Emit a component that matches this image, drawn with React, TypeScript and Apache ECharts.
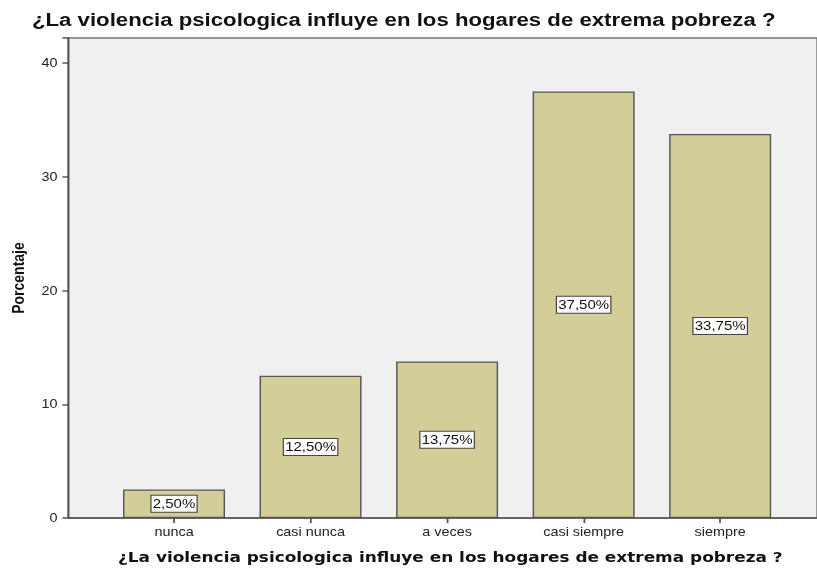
import React, { useEffect, useRef } from "react";
import * as echarts from "echarts";

const categories = ["nunca", "casi nunca", "a veces", "casi siempre", "siempre"];
const percentages = [2.5, 12.5, 13.75, 37.5, 33.75];
const yTicks = [0, 10, 20, 30, 40];
const chartTitle = "¿La violencia psicologica influye en los hogares de extrema pobreza ?";
const xTitle = "¿La violencia psicologica influye en los hogares de extrema pobreza ?";
const yTitle = "Porcentaje";

const Y_MAX = 42.2;
// the reference picture is horizontally stretched; draw narrower and stretch
const SX = 1.2;
const W = 817 / SX;

export default function App() {
  const ref = useRef<HTMLDivElement>(null);
  useEffect(() => {
    if (!ref.current) return;
    const chart = echarts.init(ref.current, null, { renderer: "svg" });
    const fmt = (v: number) => v.toFixed(2).replace(".", ",") + "%";
    chart.setOption({
      animation: false,
      title: [
        {
          text: chartTitle,
          left: 32 / SX,
          top: 10,
          padding: 0,
          textStyle: { fontFamily: "Liberation Sans", fontWeight: "bold", fontSize: 18.5, color: "#111" },
        },
        {
          text: xTitle,
          left: 118 / SX,
          top: 550,
          padding: 0,
          textStyle: { fontFamily: "DejaVu Sans", fontWeight: "bold", fontSize: 14.1, color: "#111" },
        },
      ],
      grid: [
        {
          left: 68 / SX,
          top: 38,
          width: 700,
          bottom: 53,
          show: true,
          backgroundColor: "#f0f0f0",
          borderColor: "#777",
          borderWidth: 1.5,
        },
        { left: 105.75 / SX, right: 28.75 / SX, top: 38, bottom: 53 },
      ],
      xAxis: [
        {
          gridIndex: 0,
          type: "value",
          min: 0,
          max: 1,
          axisLine: { show: true, onZero: false, lineStyle: { color: "#555", width: 1.5 } },
          axisTick: { show: false },
          axisLabel: { show: false },
          splitLine: { show: false },
        },
        {
          gridIndex: 1,
          type: "category",
          data: categories,
          axisLine: { show: false },
          axisTick: { show: true, alignWithLabel: true, length: 5, lineStyle: { color: "#555", width: 1.5 } },
          axisLabel: { fontFamily: "Liberation Sans", fontSize: 12, color: "#222", margin: 8 },
        },
      ],
      yAxis: [
        {
          gridIndex: 0,
          type: "value",
          min: 0,
          max: Y_MAX,
          interval: 10,
          axisLine: { show: true, lineStyle: { color: "#555", width: 1.5 } },
          axisTick: { show: true, length: 5, lineStyle: { color: "#555", width: 1.5 } },
          axisLabel: {
            fontFamily: "Liberation Sans",
            fontSize: 12,
            color: "#222",
            margin: 9,
            formatter: (v: number) => (yTicks.includes(v) ? String(v) : ""),
          },
          splitLine: { show: false },
          name: yTitle,
          nameLocation: "middle",
          nameRotate: 90,
          nameGap: 35,
          nameTextStyle: { fontFamily: "Liberation Sans", fontWeight: "bold", fontSize: 14, color: "#111" },
        },
        { gridIndex: 1, type: "value", min: 0, max: Y_MAX, show: false },
      ],
      series: [
        {
          type: "bar",
          xAxisIndex: 1,
          yAxisIndex: 1,
          data: percentages,
          barWidth: 102 / SX,
          itemStyle: { color: "#d3ce97", borderColor: "#555", borderWidth: 1.2 },
          label: {
            show: true,
            position: "inside",
            formatter: (p: any) => fmt(p.value),
            fontFamily: "Liberation Sans",
            fontSize: 12.5,
            color: "#111",
            backgroundColor: "#fff",
            borderColor: "#444",
            borderWidth: 1,
            padding: [2, 1, 1, 1],
          },
        },
      ],
    });
    return () => chart.dispose();
  }, []);
  return (
    <div
      ref={ref}
      style={{
        position: "fixed",
        left: 0,
        top: 0,
        width: W,
        height: 571,
        transform: `scaleX(${SX})`,
        transformOrigin: "0 0",
      }}
    />
  );
}
